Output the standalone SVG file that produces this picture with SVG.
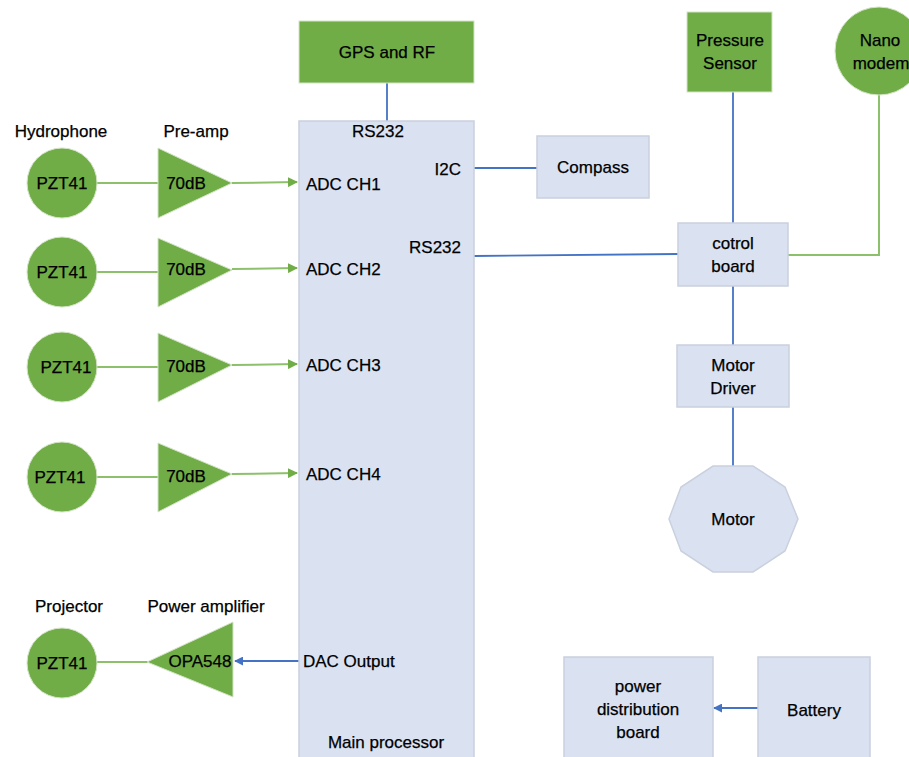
<svg xmlns="http://www.w3.org/2000/svg" width="909" height="757" viewBox="0 0 909 757">
<defs>
<style>
text{font-family:"Liberation Sans",Arial,sans-serif;font-size:17px;fill:#000;stroke:#000;stroke-width:0.25px;}
.m{text-anchor:middle;}
.e{text-anchor:end;}
.gs{fill:#70AD47;stroke:#d4e3c8;stroke-width:1;}
.b{fill:#DAE2F2;stroke:#C9D0DE;stroke-width:1.5;}
.lb{stroke:#4472C4;stroke-width:1.8;fill:none;}
.lg{stroke:#8CC06A;stroke-width:2;fill:none;}
</style>
<marker id="ag" viewBox="0 0 10 10" refX="9" refY="5" markerWidth="5" markerHeight="5" orient="auto"><path d="M0,0L10,5L0,10z" fill="#70AD47"/></marker>
<marker id="ab" viewBox="0 0 10 10" refX="9" refY="5" markerWidth="5" markerHeight="5" orient="auto"><path d="M0,0L10,5L0,10z" fill="#4472C4"/></marker>
</defs>
<rect width="909" height="757" fill="#fff"/>

<g id="connectors">
<line class="lb" x1="387" y1="83" x2="387" y2="121"/>
<line class="lb" x1="474" y1="168" x2="537" y2="168"/>
<line class="lb" x1="474" y1="256" x2="678" y2="254"/>
<line class="lb" x1="733" y1="92" x2="733" y2="223"/>
<line class="lb" x1="733" y1="286" x2="733" y2="345"/>
<line class="lb" x1="733" y1="407" x2="733" y2="467"/>
<polyline class="lg" points="879,95 879,255 788,255"/>
<line class="lg" x1="97" y1="183" x2="158" y2="183"/>
<line class="lg" x1="232" y1="183" x2="297" y2="182" marker-end="url(#ag)"/>
<line class="lg" x1="97" y1="272" x2="158" y2="272"/>
<line class="lg" x1="232" y1="269" x2="297" y2="268" marker-end="url(#ag)"/>
<line class="lg" x1="97" y1="367" x2="158" y2="367"/>
<line class="lg" x1="232" y1="365" x2="297" y2="364" marker-end="url(#ag)"/>
<line class="lg" x1="97" y1="477" x2="158" y2="477"/>
<line class="lg" x1="232" y1="474" x2="297" y2="473" marker-end="url(#ag)"/>
<line class="lg" x1="97" y1="662" x2="148" y2="662"/>
<line class="lb" x1="299" y1="661" x2="235" y2="661" marker-end="url(#ab)"/>
<line class="lb" x1="758" y1="708" x2="714" y2="708" marker-end="url(#ab)"/>
</g>

<g id="main-processor">
<rect class="b" x="299" y="121" width="175" height="645"/>
<text x="378" y="137" class="m">RS232</text>
<text x="461" y="175" class="e">I2C</text>
<text x="461" y="253" class="e">RS232</text>
<text x="306" y="190">ADC CH1</text>
<text x="306" y="275">ADC CH2</text>
<text x="306" y="371">ADC CH3</text>
<text x="306" y="480">ADC CH4</text>
<text x="303" y="667">DAC Output</text>
<text x="386" y="748" class="m">Main processor</text>
</g>

<g id="gps"><rect class="gs" x="299" y="21" width="175" height="62"/><text x="387" y="58" class="m">GPS and RF</text></g>
<g id="compass"><rect class="b" x="537" y="136" width="112" height="62"/><text x="593" y="173" class="m">Compass</text></g>
<g id="pressure"><rect class="gs" x="687" y="12" width="85" height="80"/><text x="730" y="46" class="m">Pressure</text><text x="730" y="69" class="m">Sensor</text></g>
<g id="nanomodem"><circle class="gs" cx="879" cy="51" r="44"/><text x="880" y="46" class="m">Nano</text><text x="881" y="69" class="m">modem</text></g>
<g id="control"><rect class="b" x="678" y="223" width="110" height="63"/><text x="733" y="249" class="m">cotrol</text><text x="733" y="272" class="m">board</text></g>
<g id="motordriver"><rect class="b" x="677" y="345" width="112" height="62"/><text x="733" y="371" class="m">Motor</text><text x="733" y="394" class="m">Driver</text></g>
<g id="motor"><polygon class="b" points="798,519 785,551 753,572 713,572 681,551 669,519 681,487 713,466 753,466 785,487"/><text x="733" y="525" class="m">Motor</text></g>

<text x="61" y="137" class="m">Hydrophone</text>
<text x="196" y="137" class="m">Pre-amp</text>
<g id="hyd1"><circle class="gs" cx="62" cy="183" r="35"/><text x="62" y="189" class="m">PZT41</text></g>
<g id="amp1"><polygon class="gs" points="158,148 232,183 158,218"/><text x="186" y="189" class="m">70dB</text></g>
<g id="hyd2"><circle class="gs" cx="62" cy="272" r="35"/><text x="62" y="278" class="m">PZT41</text></g>
<g id="amp2"><polygon class="gs" points="158,238 232,270 158,307"/><text x="186" y="275" class="m">70dB</text></g>
<g id="hyd3"><circle class="gs" cx="62" cy="367" r="35"/><text x="66" y="373" class="m">PZT41</text></g>
<g id="amp3"><polygon class="gs" points="158,333 232,365 158,402"/><text x="186" y="372" class="m">70dB</text></g>
<g id="hyd4"><circle class="gs" cx="62" cy="477" r="35"/><text x="60" y="483" class="m">PZT41</text></g>
<g id="amp4"><polygon class="gs" points="158,443 232,474 158,512"/><text x="186" y="482" class="m">70dB</text></g>

<text x="69" y="612" class="m">Projector</text>
<text x="206" y="612" class="m">Power amplifier</text>
<g id="proj"><circle class="gs" cx="62" cy="663" r="35"/><text x="62" y="669" class="m">PZT41</text></g>
<g id="opa"><polygon class="gs" points="233,622 147,662 233,697"/><text x="200" y="667" class="m">OPA548</text></g>

<g id="pdb"><rect class="b" x="564" y="657" width="149" height="110"/><text x="638" y="692" class="m">power</text><text x="638" y="715" class="m">distribution</text><text x="638" y="738" class="m">board</text></g>
<g id="battery"><rect class="b" x="758" y="657" width="112" height="110"/><text x="814" y="716" class="m">Battery</text></g>
</svg>
